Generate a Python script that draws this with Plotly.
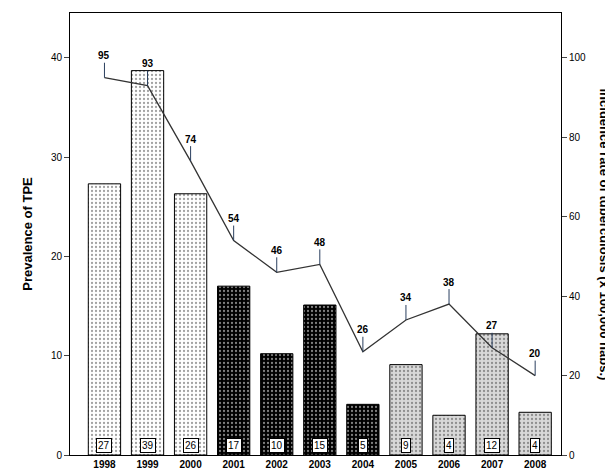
import plotly.graph_objects as go

years = [1998, 1999, 2000, 2001, 2002, 2003, 2004, 2005, 2006, 2007, 2008]
prevalence = [27.3, 38.7, 26.3, 17.0, 10.2, 15.1, 5.1, 9.1, 4.0, 12.2, 4.3]
cases = ["27", "39", "26", "17", "10", "15", "5", "9", "4", "12", "4"]
incidence = [95, 93, 74, 54, 46, 48, 26, 34, 38, 27, 20]

bg = ["white"] * 3 + ["black"] * 4 + ["#d8d8d8"] * 4
fg = ["#777777"] * 3 + ["#555555"] * 4 + ["#444444"] * 4

fig = go.Figure()
fig.add_trace(go.Bar(
    x=years, y=prevalence, width=0.75,
    marker=dict(color=bg, line=dict(color="black", width=1),
                pattern=dict(shape=".", fgcolor=fg, bgcolor=bg, size=4, solidity=0.25)),
    showlegend=False))
fig.add_trace(go.Scatter(
    x=years, y=incidence, yaxis="y2", mode="lines",
    line=dict(color="#333333", width=1.3), showlegend=False))

for yr, c in zip(years, cases):
    fig.add_annotation(x=yr, y=1.0, text=c, showarrow=False, bgcolor="white",
                       bordercolor="black", borderwidth=1, borderpad=1,
                       font=dict(size=10, color="black", family="Arial"))
for yr, v in zip(years, incidence):
    fig.add_annotation(x=yr, y=v, yref="y2", text="<b>%d</b>" % v, showarrow=True,
                       arrowhead=0, arrowwidth=1, ax=0, ay=-22, standoff=0,
                       font=dict(size=10, color="black", family="Arial"))

# right-hand title reads top to bottom
fig.add_annotation(x=1, xref="paper", y=0.5, yref="paper", xanchor="left",
                   xshift=34, textangle=90, showarrow=False,
                   text="<b>Incidence rate of tuberculosis (x 100,000 habs.)</b>",
                   font=dict(size=13, color="black", family="Arial"))

fig.update_layout(
    width=613, height=469, margin=dict(l=62, r=60, t=5, b=22),
    plot_bgcolor="white", paper_bgcolor="white", bargap=0.25,
    font=dict(family="Arial", color="black"),
    xaxis=dict(tickvals=years, ticktext=["<b>%d</b>" % y for y in years],
               range=[1997.2, 2008.6], showline=True, linecolor="black", mirror=True,
               ticks="", tickfont=dict(size=10)),
    yaxis=dict(range=[0, 44.5], tickvals=[0, 10, 20, 30, 40], showline=True,
               linecolor="black", ticks="outside", showgrid=False, zeroline=False,
               title=dict(text="<b>Prevalence of TPE</b>", font=dict(size=13)),
               tickfont=dict(size=10)),
    yaxis2=dict(range=[0, 111.3], overlaying="y", side="right",
                tickvals=[0, 20, 40, 60, 80, 100], showline=True, linecolor="black",
                ticks="outside", showgrid=False, zeroline=False,
                tickfont=dict(size=10)),
)
fig.write_html("out.html")
